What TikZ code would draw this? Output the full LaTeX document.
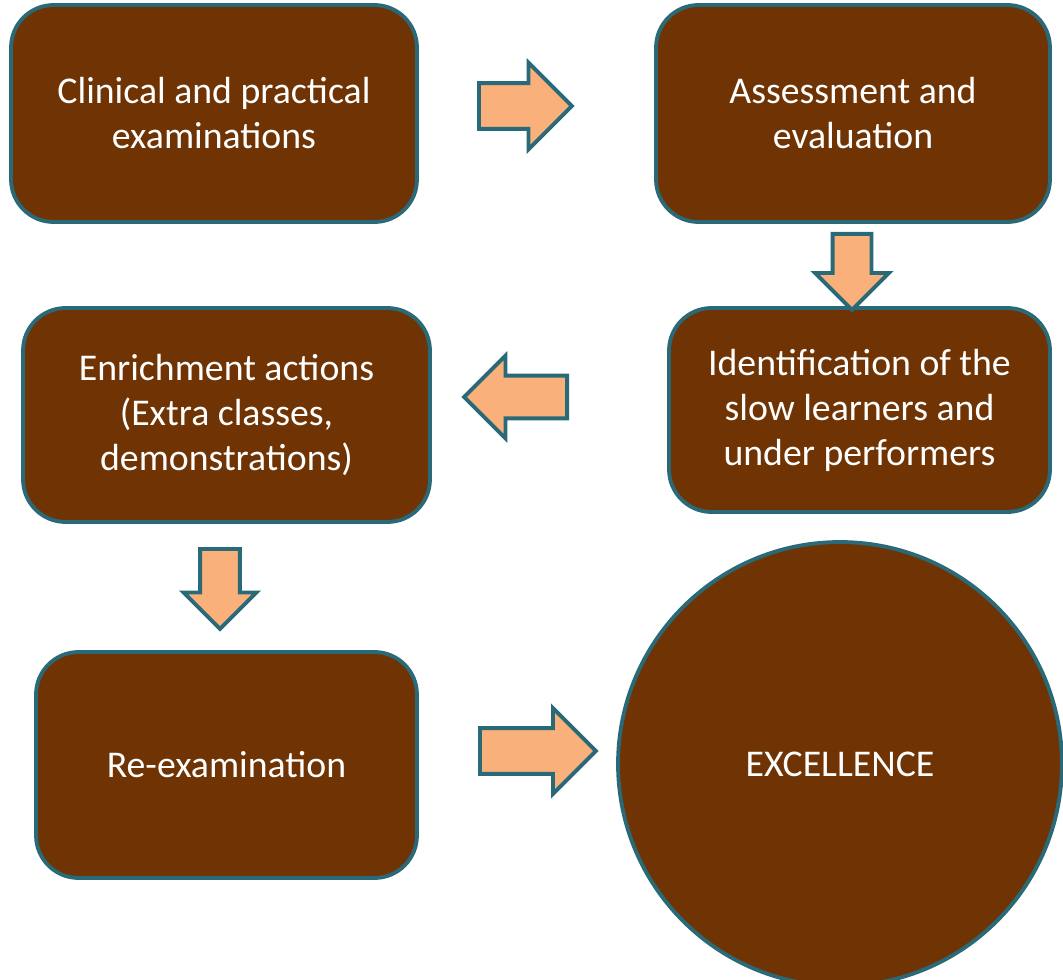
\documentclass[tikz,border=0pt]{standalone}
\usepackage{fontspec}
\setmainfont{Carlito}
\usepackage{tikz}
\usetikzlibrary{shapes.arrows}

\definecolor{boxbrown}{RGB}{111,51,4}
\definecolor{edgeteal}{RGB}{42,106,120}
\definecolor{arrowfill}{RGB}{249,176,122}

\begin{document}
\begin{tikzpicture}[x=0.02cm,y=-0.02cm,
    stepbox/.style={draw=edgeteal,line width=2.2pt,fill=boxbrown,rounded corners=0.85cm,
        text=white,align=center,inner sep=0pt,font=\fontsize{21.5}{25.6}\selectfont},
    goalcircle/.style={circle,draw=edgeteal,line width=2.2pt,fill=boxbrown,
        text=white,inner sep=0pt,font=\fontsize{21.5}{25.6}\selectfont},
    blockarrow/.style={single arrow,draw=edgeteal,line width=2.2pt,fill=arrowfill,
        inner xsep=0pt,anchor=tail},
    downarrow/.style={blockarrow,shape border rotate=270,inner ysep=0pt}]
    \useasboundingbox (0,0) rectangle (1063,980);
    % Process boxes
    \node[stepbox,minimum width=8.12cm,minimum height=4.34cm] (clinical) at (214,113.5)
        {Clinical and practical\\examinations};
    \node[stepbox,minimum width=7.88cm,minimum height=4.34cm] (assess) at (853,113.5)
        {Assessment and\\evaluation};
    \node[stepbox,minimum width=7.62cm,minimum height=4.08cm] (identify) at (859.5,410)
        {Identification of the\\slow learners and\\under performers};
    \node[stepbox,minimum width=8.14cm,minimum height=4.28cm] (enrich) at (226.5,415)
        {Enrichment actions\\(Extra classes,\\demonstrations)};
    \node[stepbox,minimum width=7.62cm,minimum height=4.52cm] (reexam) at (226.5,765)
        {Re-examination};
    \node[goalcircle,minimum size=8.88cm] (excel) at (840,764) {EXCELLENCE};
    % Block arrows
    \node[blockarrow,minimum height=1.86cm,inner ysep=0.42cm,single arrow head extend=0.41cm] (arrA) at (477,106) {};
    \node[downarrow,minimum height=1.52cm,inner xsep=0.35cm,single arrow head extend=0.35cm] (arrB) at (852,232) {};
    \node[blockarrow,shape border rotate=180,minimum height=2.06cm,inner ysep=0.39cm,single arrow head extend=0.4cm] (arrC) at (569,397) {};
    \node[downarrow,minimum height=1.6cm,inner xsep=0.36cm,single arrow head extend=0.33cm] (arrD) at (220,547) {};
    \node[blockarrow,minimum height=2.32cm,inner ysep=0.42cm,single arrow head extend=0.4cm] (arrE) at (478,751) {};
\end{tikzpicture}
\end{document}
